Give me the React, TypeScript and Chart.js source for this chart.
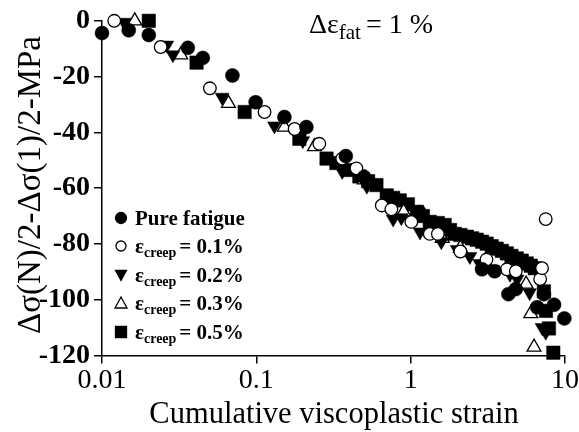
import React, { useEffect, useRef } from "react";
import { Chart, registerables } from "chart.js";

Chart.register(...registerables);

// ---- Data ----
const pureX = [0.0100, 0.0149, 0.0201, 0.036, 0.045, 0.070, 0.099, 0.152, 0.211, 0.38, 0.5, 1.14, 2.9, 3.5, 4.3, 4.8, 6.6, 7.3, 8.5, 9.9];
const pureY = [-4.4, -3.4, -5.1, -9.7, -13.3, -19.6, -29.2, -34.5, -38.1, -48.5, -56, -68.6, -89.1, -89.8, -98, -96.2, -102.7, -98, -101.8, -106.7];

const c01X = [0.012, 0.024, 0.050, 0.113, 0.177, 0.256, 0.36, 0.445, 0.65, 0.75, 1.01, 1.33, 1.5, 2.1, 3.1, 4.2, 4.8, 6.9, 7.1, 7.5];
const c01Y = [0, -9.4, -24.2, -32.7, -38.8, -44.1, -49.4, -52.9, -66.2, -67.6, -72.1, -76.4, -76.4, -82.7, -85.6, -89.1, -89.8, -92.6, -88.7, -71.1];

const c02X = [0.0139, 0.0263, 0.0288, 0.060, 0.131, 0.20, 0.36, 0.52, 0.77, 0.87, 1.15, 1.58, 2.0, 2.42, 2.8, 3.4, 4.4, 4.9, 5.9, 7.1, 7.5];
const c02Y = [-0.5, -8.7, -12.2, -27.4, -37.7, -43, -54, -59.3, -71.1, -70.6, -75.7, -79.2, -82, -84.5, -87, -89.1, -90.9, -92.6, -97.5, -110, -111.7];

const c03X = [0.0163, 0.0324, 0.066, 0.152, 0.238, 0.5, 0.9, 1.6, 2.1, 3.1, 5.6, 6.0, 6.3];
const c03Y = [0, -12.2, -29.6, -38.1, -45.1, -57, -68.5, -78, -81.5, -87.3, -94.4, -105, -117];

const c05X = [0.0201, 0.041, 0.084, 0.19, 0.285, 0.33, 0.4, 0.465, 0.53, 0.6, 0.70, 0.77, 0.85, 0.96, 1.1, 1.2, 1.33, 1.5, 1.66, 1.8, 1.93, 2.1, 2.31, 2.5, 2.68, 2.9, 3.11, 3.35, 3.61, 3.9, 4.2, 4.5, 4.87, 5.25, 5.65, 6.0, 6.37, 7.3, 7.53, 7.87, 8.4];
const c05Y = [0, -15, -32.7, -42.3, -49.4, -51, -53.5, -55.8, -57.5, -58.9, -62.6, -63.5, -64.4, -65.8, -68.5, -70, -72.1, -72.5, -73.2, -75, -76.4, -76.8, -77.4, -78, -78.5, -79.2, -79.9, -80.8, -81.7, -82.5, -83.4, -84.3, -85.2, -86, -87, -87.8, -88.7, -97, -104, -110.3, -119];

const seriesNames = ["Pure fatigue", "0.1%", "0.2%", "0.3%", "0.5%"];
const xTickValues = [0.01, 0.1, 1, 10];
const xTickLabels = ["0.01", "0.1", "1", "10"];
const yMin = -120;
const yMax = 0;
const yStep = 20;

const xTitle = "Cumulative viscoplastic strain";
const yTitle = "Δσ(N)/2-Δσ(1)/2-MPa";

const SERIF = "'Liberation Serif', 'Times New Roman', serif";

type Marker = { style: string; radius: number; fill: string; rotation: number };
const markers: Marker[] = [
  { style: "circle", radius: 7, fill: "#000", rotation: 0 },
  { style: "circle", radius: 6.3, fill: "#fff", rotation: 0 },
  { style: "triangle", radius: 8, fill: "#000", rotation: 180 },
  { style: "triangle", radius: 8, fill: "#fff", rotation: 0 },
  { style: "rect", radius: 9.5, fill: "#000", rotation: 0 },
];

function drawLegendMarker(ctx: CanvasRenderingContext2D, i: number, x: number, y: number) {
  ctx.save();
  ctx.lineWidth = 1.3;
  ctx.strokeStyle = "#000";
  ctx.fillStyle = markers[i].fill;
  ctx.beginPath();
  if (i === 0 || i === 1) {
    ctx.arc(x, y, i === 0 ? 5.5 : 5, 0, Math.PI * 2);
  } else if (i === 2) {
    ctx.moveTo(x - 5.5, y - 4.5);
    ctx.lineTo(x + 5.5, y - 4.5);
    ctx.lineTo(x, y + 5.5);
    ctx.closePath();
  } else if (i === 3) {
    ctx.moveTo(x - 6, y + 5);
    ctx.lineTo(x + 6, y + 5);
    ctx.lineTo(x, y - 6);
    ctx.closePath();
  } else {
    ctx.rect(x - 5.5, y - 5.5, 11, 11);
  }
  ctx.fill();
  ctx.stroke();
  ctx.restore();
}

const overlayPlugin = {
  id: "overlay",
  afterDraw(chart: any) {
    const ctx: CanvasRenderingContext2D = chart.ctx;
    ctx.save();
    ctx.fillStyle = "#000";

    // Axis titles
    ctx.font = `30.5px ${SERIF}`;
    ctx.textAlign = "center";
    ctx.textBaseline = "alphabetic";
    ctx.fillText(xTitle, 334, 423);

    ctx.save();
    ctx.translate(40, 185);
    ctx.rotate(-Math.PI / 2);
    ctx.font = `33px ${SERIF}`;
    ctx.fillText(yTitle, 0, 0);
    ctx.restore();

    // Annotation Δε_fat = 1 %
    ctx.textAlign = "left";
    let x = 309;
    const base = 33;
    ctx.font = `28px ${SERIF}`;
    ctx.fillText("Δε", x, base);
    x += ctx.measureText("Δε").width;
    ctx.font = `21px ${SERIF}`;
    ctx.fillText("fat", x, base + 6);
    x += ctx.measureText("fat").width + 5;
    ctx.font = `28px ${SERIF}`;
    ctx.fillText("= 1 %", x, base);

    // Legend
    const rowsY = [218, 246, 275, 303, 332];
    for (let i = 0; i < seriesNames.length; i++) {
      const cy = rowsY[i];
      drawLegendMarker(ctx, i, 121, cy);
      let tx = 135;
      const bl = cy + 7;
      if (i === 0) {
        ctx.font = `bold 21px ${SERIF}`;
        ctx.fillText(seriesNames[i], tx, bl);
      } else {
        ctx.font = `bold 21px ${SERIF}`;
        ctx.fillText("ε", tx, bl);
        tx += ctx.measureText("ε").width;
        ctx.font = `bold 14px ${SERIF}`;
        ctx.fillText("creep", tx, bl + 4);
        tx += ctx.measureText("creep").width + 3;
        ctx.font = `bold 21px ${SERIF}`;
        ctx.fillText("= " + seriesNames[i], tx, bl);
      }
    }
    ctx.restore();
  },
};

export default function App() {
  const ref = useRef<HTMLCanvasElement>(null);

  useEffect(() => {
    if (!ref.current) return;
    const xs = [pureX, c01X, c02X, c03X, c05X];
    const ys = [pureY, c01Y, c02Y, c03Y, c05Y];
    const datasets = xs.map((xArr, i) => ({
      label: seriesNames[i],
      data: xArr.map((v, j) => ({ x: v, y: ys[i][j] })),
      pointStyle: markers[i].style,
      pointRadius: markers[i].radius,
      pointRotation: markers[i].rotation,
      pointBackgroundColor: markers[i].fill,
      pointBorderColor: "#000",
      pointBorderWidth: markers[i].fill === "#fff" ? 1.3 : 0.5,
      showLine: false,
      clip: false as any,
    }));

    const chart = new Chart(ref.current, {
      type: "scatter",
      data: { datasets: datasets as any },
      options: {
        responsive: false,
        animation: false,
        events: [],
        layout: { padding: { top: 16, right: 14, left: 0, bottom: 0 } },
        plugins: { legend: { display: false }, tooltip: { enabled: false } },
        scales: {
          x: {
            type: "logarithmic",
            min: 0.01,
            max: 10,
            afterBuildTicks: (s: any) => {
              s.ticks = xTickValues.map((v) => ({ value: v }));
            },
            afterFit: (s: any) => {
              s.height = 432 - 355.5;
            },
            ticks: {
              autoSkip: false,
              maxRotation: 0,
              padding: 0,
              color: "#000",
              font: { family: SERIF, size: 28 },
              callback: (v: any) => {
                const idx = xTickValues.findIndex((t) => Math.abs(t - v) / t < 1e-6);
                return idx >= 0 ? xTickLabels[idx] : "";
              },
            },
            grid: { drawOnChartArea: false, drawTicks: true, tickLength: 8, color: "#000", lineWidth: 1.5 },
            border: { display: true, color: "#000", width: 1.5 },
          },
          y: {
            type: "linear",
            min: yMin,
            max: yMax,
            afterFit: (s: any) => {
              s.width = 102;
            },
            ticks: {
              stepSize: yStep,
              padding: 4,
              color: "#000",
              font: { family: SERIF, size: 28, weight: "bold" },
            },
            grid: { drawOnChartArea: false, drawTicks: true, tickLength: 8, color: "#000", lineWidth: 1.5 },
            border: { display: true, color: "#000", width: 1.5 },
          },
        },
      },
      plugins: [overlayPlugin],
    });
    return () => chart.destroy();
  }, []);

  return (
    <div style={{ position: "fixed", left: 0, top: 0, width: 579, height: 432, background: "#fff" }}>
      <canvas ref={ref} width={579} height={432} style={{ width: 579, height: 432, display: "block" }} />
    </div>
  );
}
